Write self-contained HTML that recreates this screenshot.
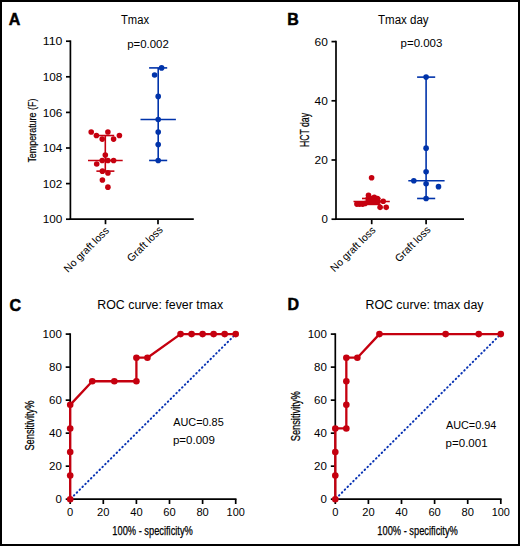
<!DOCTYPE html>
<html><head><meta charset="utf-8"><style>
html,body{margin:0;padding:0;background:#fff;}
svg{display:block;}
text{font-family:"Liberation Sans", sans-serif;}
</style></head><body>
<svg width="520" height="546" viewBox="0 0 520 546">
<rect x="0" y="0" width="520" height="546" fill="#fff"/>
<rect x="1" y="1" width="518" height="544" fill="none" stroke="#000" stroke-width="2"/>
<line x1="70.4" y1="40.4" x2="70.4" y2="220" stroke="#000" stroke-width="1.7" />
<line x1="69.6" y1="219.2" x2="193.8" y2="219.2" stroke="#000" stroke-width="1.7" />
<line x1="66" y1="219.2" x2="70.4" y2="219.2" stroke="#000" stroke-width="1.7" />
<text x="62.4" y="223.4" font-size="10.2" text-anchor="end" font-weight="normal" fill="#000" textLength="19.6" lengthAdjust="spacingAndGlyphs" >100</text>
<line x1="66" y1="183.6" x2="70.4" y2="183.6" stroke="#000" stroke-width="1.7" />
<text x="62.4" y="187.8" font-size="10.2" text-anchor="end" font-weight="normal" fill="#000" textLength="19.6" lengthAdjust="spacingAndGlyphs" >102</text>
<line x1="66" y1="148" x2="70.4" y2="148" stroke="#000" stroke-width="1.7" />
<text x="62.4" y="152.2" font-size="10.2" text-anchor="end" font-weight="normal" fill="#000" textLength="19.6" lengthAdjust="spacingAndGlyphs" >104</text>
<line x1="66" y1="112.4" x2="70.4" y2="112.4" stroke="#000" stroke-width="1.7" />
<text x="62.4" y="116.6" font-size="10.2" text-anchor="end" font-weight="normal" fill="#000" textLength="19.6" lengthAdjust="spacingAndGlyphs" >106</text>
<line x1="66" y1="76.8" x2="70.4" y2="76.8" stroke="#000" stroke-width="1.7" />
<text x="62.4" y="81" font-size="10.2" text-anchor="end" font-weight="normal" fill="#000" textLength="19.6" lengthAdjust="spacingAndGlyphs" >108</text>
<line x1="66" y1="41.2" x2="70.4" y2="41.2" stroke="#000" stroke-width="1.7" />
<text x="62.4" y="45.4" font-size="10.2" text-anchor="end" font-weight="normal" fill="#000" textLength="19.6" lengthAdjust="spacingAndGlyphs" >110</text>
<line x1="105.5" y1="219.2" x2="105.5" y2="224.2" stroke="#000" stroke-width="1.7" />
<line x1="158" y1="219.2" x2="158" y2="224.2" stroke="#000" stroke-width="1.7" />
<line x1="105.3" y1="135.54" x2="105.3" y2="171.14" stroke="#c5000f" stroke-width="1.6" />
<line x1="96.4" y1="135.54" x2="114.2" y2="135.54" stroke="#c5000f" stroke-width="1.6" />
<line x1="96.4" y1="171.14" x2="114.4" y2="171.14" stroke="#c5000f" stroke-width="1.6" />
<line x1="88" y1="160.46" x2="122.7" y2="160.46" stroke="#c5000f" stroke-width="1.6" />
<circle cx="91.20" cy="131.98" r="2.8" fill="#c5000f"/>
<circle cx="107.90" cy="131.98" r="2.8" fill="#c5000f"/>
<circle cx="96.40" cy="135.54" r="2.8" fill="#c5000f"/>
<circle cx="119.40" cy="135.54" r="2.8" fill="#c5000f"/>
<circle cx="102.20" cy="139.10" r="2.8" fill="#c5000f"/>
<circle cx="113.60" cy="139.10" r="2.8" fill="#c5000f"/>
<circle cx="105.30" cy="155.12" r="2.8" fill="#c5000f"/>
<circle cx="102.20" cy="160.46" r="2.8" fill="#c5000f"/>
<circle cx="107.90" cy="160.46" r="2.8" fill="#c5000f"/>
<circle cx="113.60" cy="160.46" r="2.8" fill="#c5000f"/>
<circle cx="96.70" cy="164.02" r="2.8" fill="#c5000f"/>
<circle cx="102.40" cy="171.14" r="2.8" fill="#c5000f"/>
<circle cx="107.90" cy="172.92" r="2.8" fill="#c5000f"/>
<circle cx="102.40" cy="180.04" r="2.8" fill="#c5000f"/>
<circle cx="107.90" cy="187.16" r="2.8" fill="#c5000f"/>
<line x1="158.2" y1="67.9" x2="158.2" y2="160.46" stroke="#0033aa" stroke-width="1.6" />
<line x1="149.1" y1="67.9" x2="167.2" y2="67.9" stroke="#0033aa" stroke-width="1.6" />
<line x1="149.1" y1="160.46" x2="167.2" y2="160.46" stroke="#0033aa" stroke-width="1.6" />
<line x1="140.5" y1="119.52" x2="175.9" y2="119.52" stroke="#0033aa" stroke-width="1.6" />
<circle cx="161.60" cy="67.90" r="2.8" fill="#0033aa"/>
<circle cx="154.60" cy="75.02" r="2.8" fill="#0033aa"/>
<circle cx="158.20" cy="96.38" r="2.8" fill="#0033aa"/>
<circle cx="158.20" cy="119.52" r="2.8" fill="#0033aa"/>
<circle cx="158.20" cy="131.98" r="2.8" fill="#0033aa"/>
<circle cx="158.20" cy="144.44" r="2.8" fill="#0033aa"/>
<circle cx="158.20" cy="160.46" r="2.8" fill="#0033aa"/>
<text x="8.8" y="24.5" font-size="16" text-anchor="start" font-weight="bold" fill="#000" stroke="#000" stroke-width="0.5">A</text>
<text x="121" y="23.8" font-size="12" text-anchor="start" font-weight="normal" fill="#000" textLength="28" lengthAdjust="spacingAndGlyphs" >Tmax</text>
<text x="127.2" y="47.8" font-size="10" text-anchor="start" font-weight="normal" fill="#000" textLength="41.6" lengthAdjust="spacingAndGlyphs" >p=0.002</text>
<g transform="translate(35.8,130.6) rotate(-90)"><text x="0" y="0" font-size="11" text-anchor="middle" stroke="#000" stroke-width="0.18" textLength="64" lengthAdjust="spacingAndGlyphs">Temperature (F)</text></g>
<g transform="translate(109.8,231.2) rotate(-45)"><text x="0" y="0" font-size="10.5" text-anchor="end">No graft loss</text></g>
<g transform="translate(163.4,230.4) rotate(-45)"><text x="0" y="0" font-size="10.6" text-anchor="end">Graft loss</text></g>
<line x1="336" y1="40.8" x2="336" y2="220" stroke="#000" stroke-width="1.7" />
<line x1="335.2" y1="219.2" x2="464" y2="219.2" stroke="#000" stroke-width="1.7" />
<line x1="331.5" y1="219.2" x2="336" y2="219.2" stroke="#000" stroke-width="1.7" />
<text x="327.8" y="223.2" font-size="10.2" text-anchor="end" font-weight="normal" fill="#000" textLength="6.4" lengthAdjust="spacingAndGlyphs" >0</text>
<line x1="331.5" y1="160" x2="336" y2="160" stroke="#000" stroke-width="1.7" />
<text x="327.8" y="164" font-size="10.2" text-anchor="end" font-weight="normal" fill="#000" textLength="13.3" lengthAdjust="spacingAndGlyphs" >20</text>
<line x1="331.5" y1="100.8" x2="336" y2="100.8" stroke="#000" stroke-width="1.7" />
<text x="327.8" y="104.8" font-size="10.2" text-anchor="end" font-weight="normal" fill="#000" textLength="13.3" lengthAdjust="spacingAndGlyphs" >40</text>
<line x1="331.5" y1="41.6" x2="336" y2="41.6" stroke="#000" stroke-width="1.7" />
<text x="327.8" y="45.6" font-size="10.2" text-anchor="end" font-weight="normal" fill="#000" textLength="13.3" lengthAdjust="spacingAndGlyphs" >60</text>
<line x1="371.7" y1="219.2" x2="371.7" y2="224.2" stroke="#000" stroke-width="1.7" />
<line x1="426.1" y1="219.2" x2="426.1" y2="224.2" stroke="#000" stroke-width="1.7" />
<line x1="362" y1="198.48" x2="380.7" y2="198.48" stroke="#c5000f" stroke-width="1.6" />
<line x1="353.5" y1="201.44" x2="389.8" y2="201.44" stroke="#c5000f" stroke-width="1.6" />
<line x1="362" y1="204.4" x2="380.7" y2="204.4" stroke="#c5000f" stroke-width="1.6" />
<line x1="371.6" y1="198.48" x2="371.6" y2="204.4" stroke="#c5000f" stroke-width="1.6" />
<circle cx="371.60" cy="177.76" r="2.8" fill="#c5000f"/>
<circle cx="368.50" cy="195.22" r="2.8" fill="#c5000f"/>
<circle cx="368.20" cy="198.48" r="2.8" fill="#c5000f"/>
<circle cx="371.00" cy="198.48" r="2.8" fill="#c5000f"/>
<circle cx="374.30" cy="197.30" r="2.8" fill="#c5000f"/>
<circle cx="377.40" cy="198.48" r="2.8" fill="#c5000f"/>
<circle cx="368.20" cy="201.44" r="2.8" fill="#c5000f"/>
<circle cx="370.00" cy="201.44" r="2.8" fill="#c5000f"/>
<circle cx="372.50" cy="201.44" r="2.8" fill="#c5000f"/>
<circle cx="375.50" cy="201.44" r="2.8" fill="#c5000f"/>
<circle cx="378.00" cy="201.44" r="2.8" fill="#c5000f"/>
<circle cx="383.20" cy="201.29" r="2.8" fill="#c5000f"/>
<circle cx="356.90" cy="204.10" r="2.8" fill="#c5000f"/>
<circle cx="359.60" cy="204.10" r="2.8" fill="#c5000f"/>
<circle cx="362.60" cy="204.10" r="2.8" fill="#c5000f"/>
<circle cx="365.00" cy="203.51" r="2.8" fill="#c5000f"/>
<circle cx="380.10" cy="207.36" r="2.8" fill="#c5000f"/>
<circle cx="386.20" cy="207.36" r="2.8" fill="#c5000f"/>
<line x1="426.1" y1="77.12" x2="426.1" y2="198.48" stroke="#0033aa" stroke-width="1.6" />
<line x1="417.1" y1="77.12" x2="435.2" y2="77.12" stroke="#0033aa" stroke-width="1.6" />
<line x1="417.1" y1="198.48" x2="435.2" y2="198.48" stroke="#0033aa" stroke-width="1.6" />
<line x1="408.3" y1="180.72" x2="444.6" y2="180.72" stroke="#0033aa" stroke-width="1.6" />
<circle cx="426.10" cy="77.12" r="2.8" fill="#0033aa"/>
<circle cx="426.10" cy="148.16" r="2.8" fill="#0033aa"/>
<circle cx="426.10" cy="171.84" r="2.8" fill="#0033aa"/>
<circle cx="413.80" cy="180.72" r="2.8" fill="#0033aa"/>
<circle cx="426.10" cy="183.68" r="2.8" fill="#0033aa"/>
<circle cx="438.50" cy="186.64" r="2.8" fill="#0033aa"/>
<circle cx="426.10" cy="198.48" r="2.8" fill="#0033aa"/>
<text x="287.2" y="24.5" font-size="16" text-anchor="start" font-weight="bold" fill="#000" stroke="#000" stroke-width="0.5">B</text>
<text x="378" y="24.2" font-size="12" text-anchor="start" font-weight="normal" fill="#000" textLength="50.6" lengthAdjust="spacingAndGlyphs" >Tmax day</text>
<text x="400.6" y="47.4" font-size="10" text-anchor="start" font-weight="normal" fill="#000" textLength="41.8" lengthAdjust="spacingAndGlyphs" >p=0.003</text>
<g transform="translate(309,130) rotate(-90)"><text x="0" y="0" font-size="12" text-anchor="middle" stroke="#000" stroke-width="0.25" textLength="34" lengthAdjust="spacingAndGlyphs">HCT day</text></g>
<g transform="translate(376.2,230.8) rotate(-45)"><text x="0" y="0" font-size="10.5" text-anchor="end">No graft loss</text></g>
<g transform="translate(431.2,230.6) rotate(-45)"><text x="0" y="0" font-size="10.6" text-anchor="end">Graft loss</text></g>
<line x1="70.2" y1="333.3" x2="70.2" y2="500" stroke="#000" stroke-width="1.7" />
<line x1="69.4" y1="499.2" x2="236.5" y2="499.2" stroke="#000" stroke-width="1.7" />
<line x1="65.7" y1="499.2" x2="70.2" y2="499.2" stroke="#000" stroke-width="1.7" />
<text x="61.8" y="503" font-size="10" text-anchor="end" font-weight="normal" fill="#000" textLength="6.4" lengthAdjust="spacingAndGlyphs" >0</text>
<line x1="70.2" y1="499.2" x2="70.2" y2="504" stroke="#000" stroke-width="1.7" />
<text x="70.2" y="516.2" font-size="10" text-anchor="middle" font-weight="normal" fill="#000" textLength="6.2" lengthAdjust="spacingAndGlyphs" >0</text>
<line x1="65.7" y1="466.18" x2="70.2" y2="466.18" stroke="#000" stroke-width="1.7" />
<text x="61.8" y="469.98" font-size="10" text-anchor="end" font-weight="normal" fill="#000" textLength="12.8" lengthAdjust="spacingAndGlyphs" >20</text>
<line x1="103.3" y1="499.2" x2="103.3" y2="504" stroke="#000" stroke-width="1.7" />
<text x="103.3" y="516.2" font-size="10" text-anchor="middle" font-weight="normal" fill="#000" textLength="12.4" lengthAdjust="spacingAndGlyphs" >20</text>
<line x1="65.7" y1="433.16" x2="70.2" y2="433.16" stroke="#000" stroke-width="1.7" />
<text x="61.8" y="436.96" font-size="10" text-anchor="end" font-weight="normal" fill="#000" textLength="12.8" lengthAdjust="spacingAndGlyphs" >40</text>
<line x1="136.4" y1="499.2" x2="136.4" y2="504" stroke="#000" stroke-width="1.7" />
<text x="136.4" y="516.2" font-size="10" text-anchor="middle" font-weight="normal" fill="#000" textLength="12.4" lengthAdjust="spacingAndGlyphs" >40</text>
<line x1="65.7" y1="400.14" x2="70.2" y2="400.14" stroke="#000" stroke-width="1.7" />
<text x="61.8" y="403.94" font-size="10" text-anchor="end" font-weight="normal" fill="#000" textLength="12.8" lengthAdjust="spacingAndGlyphs" >60</text>
<line x1="169.5" y1="499.2" x2="169.5" y2="504" stroke="#000" stroke-width="1.7" />
<text x="169.5" y="516.2" font-size="10" text-anchor="middle" font-weight="normal" fill="#000" textLength="12.4" lengthAdjust="spacingAndGlyphs" >60</text>
<line x1="65.7" y1="367.12" x2="70.2" y2="367.12" stroke="#000" stroke-width="1.7" />
<text x="61.8" y="370.92" font-size="10" text-anchor="end" font-weight="normal" fill="#000" textLength="12.8" lengthAdjust="spacingAndGlyphs" >80</text>
<line x1="202.6" y1="499.2" x2="202.6" y2="504" stroke="#000" stroke-width="1.7" />
<text x="202.6" y="516.2" font-size="10" text-anchor="middle" font-weight="normal" fill="#000" textLength="12.4" lengthAdjust="spacingAndGlyphs" >80</text>
<line x1="65.7" y1="334.1" x2="70.2" y2="334.1" stroke="#000" stroke-width="1.7" />
<text x="61.8" y="337.9" font-size="10" text-anchor="end" font-weight="normal" fill="#000" textLength="19.2" lengthAdjust="spacingAndGlyphs" >100</text>
<line x1="235.7" y1="499.2" x2="235.7" y2="504" stroke="#000" stroke-width="1.7" />
<text x="235.7" y="516.2" font-size="10" text-anchor="middle" font-weight="normal" fill="#000" textLength="18.2" lengthAdjust="spacingAndGlyphs" >100</text>
<line x1="70.2" y1="499.2" x2="235.7" y2="334.1" stroke="#0a34b4" stroke-width="2" stroke-linecap="round" stroke-dasharray="0.6 3.42" stroke-dashoffset="-1.2"/>
<path d="M70.20,499.20 L70.20,475.61 L70.20,452.03 L70.20,428.44 L70.20,404.86 L92.27,381.27 L114.33,381.27 L136.40,381.27 L136.40,357.69 L147.43,357.69 L180.53,334.10 L191.57,334.10 L202.60,334.10 L213.63,334.10 L224.67,334.10 L235.70,334.10" fill="none" stroke="#c5000f" stroke-width="2.3" stroke-linejoin="round"/>
<circle cx="70.20" cy="499.20" r="3.3" fill="#c5000f"/>
<circle cx="70.20" cy="475.61" r="3.3" fill="#c5000f"/>
<circle cx="70.20" cy="452.03" r="3.3" fill="#c5000f"/>
<circle cx="70.20" cy="428.44" r="3.3" fill="#c5000f"/>
<circle cx="70.20" cy="404.86" r="3.3" fill="#c5000f"/>
<circle cx="92.27" cy="381.27" r="3.3" fill="#c5000f"/>
<circle cx="114.33" cy="381.27" r="3.3" fill="#c5000f"/>
<circle cx="136.40" cy="381.27" r="3.3" fill="#c5000f"/>
<circle cx="136.40" cy="357.69" r="3.3" fill="#c5000f"/>
<circle cx="147.43" cy="357.69" r="3.3" fill="#c5000f"/>
<circle cx="180.53" cy="334.10" r="3.3" fill="#c5000f"/>
<circle cx="191.57" cy="334.10" r="3.3" fill="#c5000f"/>
<circle cx="202.60" cy="334.10" r="3.3" fill="#c5000f"/>
<circle cx="213.63" cy="334.10" r="3.3" fill="#c5000f"/>
<circle cx="224.67" cy="334.10" r="3.3" fill="#c5000f"/>
<circle cx="235.70" cy="334.10" r="3.3" fill="#c5000f"/>
<text x="9.5" y="310.6" font-size="16" text-anchor="start" font-weight="bold" fill="#000" stroke="#000" stroke-width="0.5">C</text>
<text x="97.3" y="308.5" font-size="12" text-anchor="start" font-weight="normal" fill="#000" textLength="125.8" lengthAdjust="spacingAndGlyphs" >ROC curve: fever tmax</text>
<text x="173.2" y="425.8" font-size="10" text-anchor="start" font-weight="normal" fill="#000" textLength="50.5" lengthAdjust="spacingAndGlyphs" >AUC=0.85</text>
<text x="172.9" y="443.7" font-size="10" text-anchor="start" font-weight="normal" fill="#000" textLength="42" lengthAdjust="spacingAndGlyphs" >p=0.009</text>
<g transform="translate(34.0,425.6) rotate(-90)"><text x="0" y="0" font-size="12" text-anchor="middle" stroke="#000" stroke-width="0.25" textLength="50" lengthAdjust="spacingAndGlyphs">Sensitivity%</text></g>
<text x="152.6" y="534.8" font-size="12" text-anchor="middle" font-weight="normal" fill="#000" textLength="80.5" lengthAdjust="spacingAndGlyphs" stroke="#000" stroke-width="0.25">100% - specificity%</text>
<line x1="335.3" y1="333.3" x2="335.3" y2="500" stroke="#000" stroke-width="1.7" />
<line x1="334.5" y1="499.2" x2="501.6" y2="499.2" stroke="#000" stroke-width="1.7" />
<line x1="330.8" y1="499.2" x2="335.3" y2="499.2" stroke="#000" stroke-width="1.7" />
<text x="326.9" y="503" font-size="10" text-anchor="end" font-weight="normal" fill="#000" textLength="6.4" lengthAdjust="spacingAndGlyphs" >0</text>
<line x1="335.3" y1="499.2" x2="335.3" y2="504" stroke="#000" stroke-width="1.7" />
<text x="335.3" y="516.2" font-size="10" text-anchor="middle" font-weight="normal" fill="#000" textLength="6.2" lengthAdjust="spacingAndGlyphs" >0</text>
<line x1="330.8" y1="466.18" x2="335.3" y2="466.18" stroke="#000" stroke-width="1.7" />
<text x="326.9" y="469.98" font-size="10" text-anchor="end" font-weight="normal" fill="#000" textLength="12.8" lengthAdjust="spacingAndGlyphs" >20</text>
<line x1="368.4" y1="499.2" x2="368.4" y2="504" stroke="#000" stroke-width="1.7" />
<text x="368.4" y="516.2" font-size="10" text-anchor="middle" font-weight="normal" fill="#000" textLength="12.4" lengthAdjust="spacingAndGlyphs" >20</text>
<line x1="330.8" y1="433.16" x2="335.3" y2="433.16" stroke="#000" stroke-width="1.7" />
<text x="326.9" y="436.96" font-size="10" text-anchor="end" font-weight="normal" fill="#000" textLength="12.8" lengthAdjust="spacingAndGlyphs" >40</text>
<line x1="401.5" y1="499.2" x2="401.5" y2="504" stroke="#000" stroke-width="1.7" />
<text x="401.5" y="516.2" font-size="10" text-anchor="middle" font-weight="normal" fill="#000" textLength="12.4" lengthAdjust="spacingAndGlyphs" >40</text>
<line x1="330.8" y1="400.14" x2="335.3" y2="400.14" stroke="#000" stroke-width="1.7" />
<text x="326.9" y="403.94" font-size="10" text-anchor="end" font-weight="normal" fill="#000" textLength="12.8" lengthAdjust="spacingAndGlyphs" >60</text>
<line x1="434.6" y1="499.2" x2="434.6" y2="504" stroke="#000" stroke-width="1.7" />
<text x="434.6" y="516.2" font-size="10" text-anchor="middle" font-weight="normal" fill="#000" textLength="12.4" lengthAdjust="spacingAndGlyphs" >60</text>
<line x1="330.8" y1="367.12" x2="335.3" y2="367.12" stroke="#000" stroke-width="1.7" />
<text x="326.9" y="370.92" font-size="10" text-anchor="end" font-weight="normal" fill="#000" textLength="12.8" lengthAdjust="spacingAndGlyphs" >80</text>
<line x1="467.7" y1="499.2" x2="467.7" y2="504" stroke="#000" stroke-width="1.7" />
<text x="467.7" y="516.2" font-size="10" text-anchor="middle" font-weight="normal" fill="#000" textLength="12.4" lengthAdjust="spacingAndGlyphs" >80</text>
<line x1="330.8" y1="334.1" x2="335.3" y2="334.1" stroke="#000" stroke-width="1.7" />
<text x="326.9" y="337.9" font-size="10" text-anchor="end" font-weight="normal" fill="#000" textLength="19.2" lengthAdjust="spacingAndGlyphs" >100</text>
<line x1="500.8" y1="499.2" x2="500.8" y2="504" stroke="#000" stroke-width="1.7" />
<text x="500.8" y="516.2" font-size="10" text-anchor="middle" font-weight="normal" fill="#000" textLength="18.2" lengthAdjust="spacingAndGlyphs" >100</text>
<line x1="335.3" y1="499.2" x2="500.8" y2="334.1" stroke="#0a34b4" stroke-width="2" stroke-linecap="round" stroke-dasharray="0.6 3.42" stroke-dashoffset="-1.2"/>
<path d="M335.30,499.20 L335.30,475.61 L335.30,452.03 L335.30,428.44 L346.33,428.44 L346.33,404.86 L346.33,381.27 L346.33,357.69 L357.37,357.69 L379.43,334.10 L445.63,334.10 L478.73,334.10 L500.80,334.10" fill="none" stroke="#c5000f" stroke-width="2.3" stroke-linejoin="round"/>
<circle cx="335.30" cy="499.20" r="3.3" fill="#c5000f"/>
<circle cx="335.30" cy="475.61" r="3.3" fill="#c5000f"/>
<circle cx="335.30" cy="452.03" r="3.3" fill="#c5000f"/>
<circle cx="335.30" cy="428.44" r="3.3" fill="#c5000f"/>
<circle cx="346.33" cy="428.44" r="3.3" fill="#c5000f"/>
<circle cx="346.33" cy="404.86" r="3.3" fill="#c5000f"/>
<circle cx="346.33" cy="381.27" r="3.3" fill="#c5000f"/>
<circle cx="346.33" cy="357.69" r="3.3" fill="#c5000f"/>
<circle cx="357.37" cy="357.69" r="3.3" fill="#c5000f"/>
<circle cx="379.43" cy="334.10" r="3.3" fill="#c5000f"/>
<circle cx="445.63" cy="334.10" r="3.3" fill="#c5000f"/>
<circle cx="478.73" cy="334.10" r="3.3" fill="#c5000f"/>
<circle cx="500.80" cy="334.10" r="3.3" fill="#c5000f"/>
<text x="287.4" y="310.4" font-size="16" text-anchor="start" font-weight="bold" fill="#000" stroke="#000" stroke-width="0.5">D</text>
<text x="365.5" y="308.5" font-size="12" text-anchor="start" font-weight="normal" fill="#000" textLength="118" lengthAdjust="spacingAndGlyphs" >ROC curve: tmax day</text>
<text x="445.9" y="428.5" font-size="10" text-anchor="start" font-weight="normal" fill="#000" textLength="50.5" lengthAdjust="spacingAndGlyphs" >AUC=0.94</text>
<text x="445.6" y="446.5" font-size="10" text-anchor="start" font-weight="normal" fill="#000" textLength="42" lengthAdjust="spacingAndGlyphs" >p=0.001</text>
<g transform="translate(299.6,416.3) rotate(-90)"><text x="0" y="0" font-size="12" text-anchor="middle" stroke="#000" stroke-width="0.25" textLength="50" lengthAdjust="spacingAndGlyphs">Sensitivity%</text></g>
<text x="417.6" y="534.8" font-size="12" text-anchor="middle" font-weight="normal" fill="#000" textLength="80.5" lengthAdjust="spacingAndGlyphs" stroke="#000" stroke-width="0.25">100% - specificity%</text>
</svg>
</body></html>
